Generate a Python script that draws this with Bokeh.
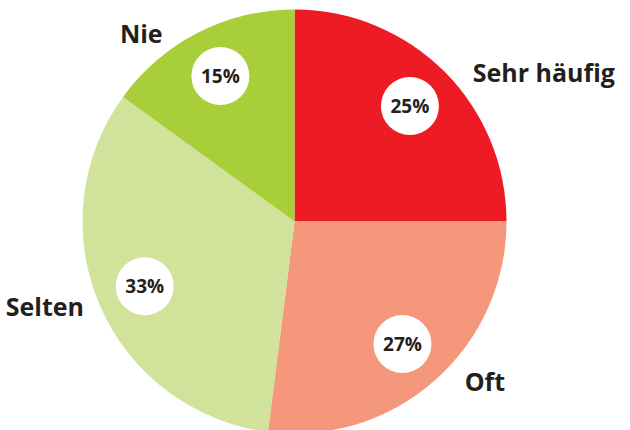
import math
from bokeh.plotting import figure
from bokeh.models import Range1d, ColumnDataSource
from bokeh.core.properties import value
from bokeh.embed import file_html
from bokeh.resources import INLINE

categories = ["Sehr häufig", "Oft", "Selten", "Nie"]
shares = [25, 27, 33, 15]
colors = ["#ED1C24", "#F5977A", "#D1E39B", "#A8CF3A"]
pct_labels = ["25%", "27%", "33%", "15%"]

W, H = 630, 430
cx, cy, R = 294, 209, 212

total = sum(shares)
starts, ends, mids = [], [], []
cum = 0
for s in shares:
    a0 = math.pi / 2 - 2 * math.pi * cum / total
    cum += s
    a1 = math.pi / 2 - 2 * math.pi * cum / total
    starts.append(a0)
    ends.append(a1)
    mids.append((a0 + a1) / 2)

p = figure(width=W, height=H, output_backend="svg", toolbar_location=None,
           x_range=Range1d(0, W), y_range=Range1d(0, H), min_border=0)
p.axis.visible = False
p.grid.visible = False
p.outline_line_color = None
p.background_fill_color = "white"

src = ColumnDataSource(dict(start=starts, end=ends, color=colors))
p.wedge(x=cx, y=cy, radius=R, start_angle="start", end_angle="end",
        direction="clock", fill_color="color", line_color=None, source=src)

# percentage bubbles
rl = 0.77 * R
bx = [cx + rl * math.cos(m) for m in mids]
by = [cy + rl * math.sin(m) for m in mids]
p.circle(x=bx, y=by, radius=29, fill_color="white", line_color=None)
p.text(x=bx, y=by, text=pct_labels, text_font=value("Open Sans"),
       text_font_style="bold", text_font_size="19px", text_color="#231F20",
       text_align="center", text_baseline="middle")

# category labels: just outside the rim, pushed sideways
lx, ly, al = [], [], []
for m in mids:
    c, s = math.cos(m), math.sin(m)
    side = 1 if c > 0 else -1
    lx.append(cx + R * c + side * 40 * abs(s))
    ly.append(cy + R * s)
    al.append("left" if c > 0 else "right")
src2 = ColumnDataSource(dict(x=lx, y=ly, t=categories, a=al))
p.text(x="x", y="y", text="t", text_align="a", source=src2,
       text_font=value("Open Sans"), text_font_style="bold",
       text_font_size="25px", text_color="#231F20", text_baseline="middle")

open("out.html", "w").write(file_html(p, INLINE))
